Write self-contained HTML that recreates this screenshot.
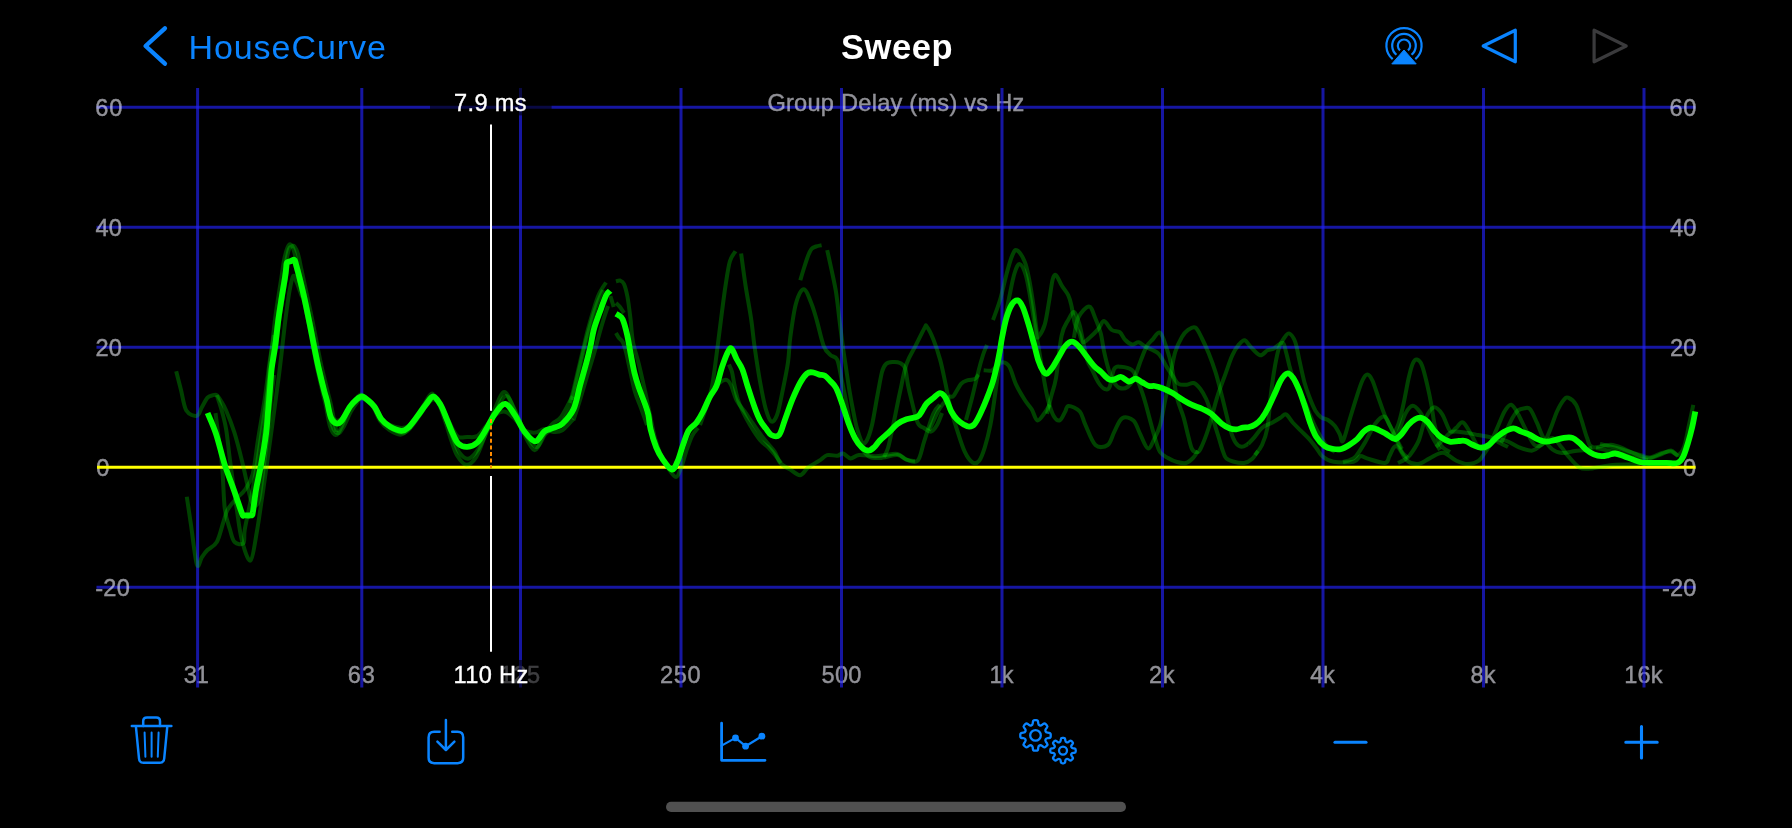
<!DOCTYPE html>
<html><head><meta charset="utf-8"><title>Sweep</title>
<style>
html,body{margin:0;padding:0;background:#000;}
.ly{position:absolute;left:0;top:0;width:1792px;height:828px;will-change:transform;}
body{width:1792px;height:828px;position:relative;overflow:hidden;font-family:"Liberation Sans",sans-serif;}
</style></head><body>
<svg width="1792" height="828" viewBox="0 0 1792 828" style="position:absolute;left:0;top:0">
<line x1="96.5" x2="1695.5" y1="107.3" y2="107.3" stroke="rgba(33,33,245,0.66)" stroke-width="3"/>
<line x1="96.5" x2="1695.5" y1="227.3" y2="227.3" stroke="rgba(33,33,245,0.66)" stroke-width="3"/>
<line x1="96.5" x2="1695.5" y1="347.3" y2="347.3" stroke="rgba(33,33,245,0.66)" stroke-width="3"/>
<line x1="96.5" x2="1695.5" y1="587.3" y2="587.3" stroke="rgba(33,33,245,0.66)" stroke-width="3"/>
</svg>
<div class="ly">
<div style="position:absolute;left:767.38px;top:89.54px;font-size:23.6px;line-height:27.116px;color:rgb(235,235,245);font-weight:400;white-space:pre;letter-spacing:0.247px;word-spacing:0.0px;opacity:0.62;-webkit-text-stroke:0.35px rgb(235,235,245);">Group Delay (ms) vs Hz</div>
<div style="position:absolute;left:95.28px;top:94.64px;font-size:23.6px;line-height:27.116px;color:rgb(235,235,245);font-weight:400;white-space:pre;letter-spacing:0.776px;word-spacing:0.0px;opacity:0.62;-webkit-text-stroke:0.35px rgb(235,235,245);">60</div>
<div style="position:absolute;left:1669.38px;top:94.64px;font-size:23.6px;line-height:27.116px;color:rgb(235,235,245);font-weight:400;white-space:pre;letter-spacing:0.776px;word-spacing:0.0px;opacity:0.62;-webkit-text-stroke:0.35px rgb(235,235,245);">60</div>
<div style="position:absolute;left:95.50px;top:214.64px;font-size:23.6px;line-height:27.116px;color:rgb(235,235,245);font-weight:400;white-space:pre;letter-spacing:0.151px;word-spacing:0.0px;opacity:0.62;-webkit-text-stroke:0.35px rgb(235,235,245);">40</div>
<div style="position:absolute;left:1670.00px;top:214.64px;font-size:23.6px;line-height:27.116px;color:rgb(235,235,245);font-weight:400;white-space:pre;letter-spacing:0.151px;word-spacing:0.0px;opacity:0.62;-webkit-text-stroke:0.35px rgb(235,235,245);">40</div>
<div style="position:absolute;left:95.48px;top:334.64px;font-size:23.6px;line-height:27.116px;color:rgb(235,235,245);font-weight:400;white-space:pre;letter-spacing:0.176px;word-spacing:0.0px;opacity:0.62;-webkit-text-stroke:0.35px rgb(235,235,245);">20</div>
<div style="position:absolute;left:1669.98px;top:334.64px;font-size:23.6px;line-height:27.116px;color:rgb(235,235,245);font-weight:400;white-space:pre;letter-spacing:0.176px;word-spacing:0.0px;opacity:0.62;-webkit-text-stroke:0.35px rgb(235,235,245);">20</div>
<div style="position:absolute;left:96.13px;top:454.64px;font-size:23.6px;line-height:27.116px;color:rgb(235,235,245);font-weight:400;white-space:pre;letter-spacing:0.000px;word-spacing:0.0px;opacity:0.62;-webkit-text-stroke:0.35px rgb(235,235,245);">0</div>
<div style="position:absolute;left:1683.03px;top:454.64px;font-size:23.6px;line-height:27.116px;color:rgb(235,235,245);font-weight:400;white-space:pre;letter-spacing:0.000px;word-spacing:0.0px;opacity:0.62;-webkit-text-stroke:0.35px rgb(235,235,245);">0</div>
<div style="position:absolute;left:95.30px;top:574.64px;font-size:23.6px;line-height:27.116px;color:rgb(235,235,245);font-weight:400;white-space:pre;letter-spacing:0.192px;word-spacing:0.0px;opacity:0.62;-webkit-text-stroke:0.35px rgb(235,235,245);">-20</div>
<div style="position:absolute;left:1661.90px;top:574.64px;font-size:23.6px;line-height:27.116px;color:rgb(235,235,245);font-weight:400;white-space:pre;letter-spacing:0.192px;word-spacing:0.0px;opacity:0.62;-webkit-text-stroke:0.35px rgb(235,235,245);">-20</div>
<div style="position:absolute;left:183.63px;top:661.64px;font-size:23.6px;line-height:27.116px;color:rgb(235,235,245);font-weight:400;white-space:pre;letter-spacing:-1.024px;word-spacing:0.0px;opacity:0.62;-webkit-text-stroke:0.35px rgb(235,235,245);">31</div>
<div style="position:absolute;left:347.68px;top:661.64px;font-size:23.6px;line-height:27.116px;color:rgb(235,235,245);font-weight:400;white-space:pre;letter-spacing:1.001px;word-spacing:0.0px;opacity:0.62;-webkit-text-stroke:0.35px rgb(235,235,245);">63</div>
<div style="position:absolute;left:499.85px;top:661.64px;font-size:23.6px;line-height:27.116px;color:rgb(235,235,245);font-weight:400;white-space:pre;letter-spacing:0.394px;word-spacing:0.0px;opacity:0.62;-webkit-text-stroke:0.35px rgb(235,235,245);">125</div>
<div style="position:absolute;left:659.88px;top:661.64px;font-size:23.6px;line-height:27.116px;color:rgb(235,235,245);font-weight:400;white-space:pre;letter-spacing:0.732px;word-spacing:0.0px;opacity:0.62;-webkit-text-stroke:0.35px rgb(235,235,245);">250</div>
<div style="position:absolute;left:821.53px;top:661.64px;font-size:23.6px;line-height:27.116px;color:rgb(235,235,245);font-weight:400;white-space:pre;letter-spacing:0.257px;word-spacing:0.0px;opacity:0.62;-webkit-text-stroke:0.35px rgb(235,235,245);">500</div>
<div style="position:absolute;left:989.45px;top:661.64px;font-size:23.6px;line-height:27.116px;color:rgb(235,235,245);font-weight:400;white-space:pre;letter-spacing:-0.825px;word-spacing:0.0px;opacity:0.62;-webkit-text-stroke:0.35px rgb(235,235,245);">1k</div>
<div style="position:absolute;left:1148.88px;top:661.64px;font-size:23.6px;line-height:27.116px;color:rgb(235,235,245);font-weight:400;white-space:pre;letter-spacing:0.750px;word-spacing:0.0px;opacity:0.62;-webkit-text-stroke:0.35px rgb(235,235,245);">2k</div>
<div style="position:absolute;left:1310.30px;top:661.64px;font-size:23.6px;line-height:27.116px;color:rgb(235,235,245);font-weight:400;white-space:pre;letter-spacing:-0.374px;word-spacing:0.0px;opacity:0.62;-webkit-text-stroke:0.35px rgb(235,235,245);">4k</div>
<div style="position:absolute;left:1470.50px;top:661.64px;font-size:23.6px;line-height:27.116px;color:rgb(235,235,245);font-weight:400;white-space:pre;letter-spacing:0.125px;word-spacing:0.0px;opacity:0.62;-webkit-text-stroke:0.35px rgb(235,235,245);">8k</div>
<div style="position:absolute;left:1624.25px;top:661.64px;font-size:23.6px;line-height:27.116px;color:rgb(235,235,245);font-weight:400;white-space:pre;letter-spacing:0.082px;word-spacing:0.0px;opacity:0.62;-webkit-text-stroke:0.35px rgb(235,235,245);">16k</div>
</div>
<svg width="1792" height="828" viewBox="0 0 1792 828" style="position:absolute;left:0;top:0">
<line x1="197.6" x2="197.6" y1="88" y2="687.5" stroke="rgba(33,33,245,0.66)" stroke-width="3"/>
<line x1="361.8" x2="361.8" y1="88" y2="687.5" stroke="rgba(33,33,245,0.66)" stroke-width="3"/>
<line x1="520.5" x2="520.5" y1="88" y2="687.5" stroke="rgba(33,33,245,0.66)" stroke-width="3"/>
<line x1="681" x2="681" y1="88" y2="687.5" stroke="rgba(33,33,245,0.66)" stroke-width="3"/>
<line x1="841.5" x2="841.5" y1="88" y2="687.5" stroke="rgba(33,33,245,0.66)" stroke-width="3"/>
<line x1="1002" x2="1002" y1="88" y2="687.5" stroke="rgba(33,33,245,0.66)" stroke-width="3"/>
<line x1="1162.5" x2="1162.5" y1="88" y2="687.5" stroke="rgba(33,33,245,0.66)" stroke-width="3"/>
<line x1="1323" x2="1323" y1="88" y2="687.5" stroke="rgba(33,33,245,0.66)" stroke-width="3"/>
<line x1="1483.5" x2="1483.5" y1="88" y2="687.5" stroke="rgba(33,33,245,0.66)" stroke-width="3"/>
<line x1="1644" x2="1644" y1="88" y2="687.5" stroke="rgba(33,33,245,0.66)" stroke-width="3"/>
<line x1="97" x2="1695.5" y1="467.3" y2="467.3" stroke="#ffff00" stroke-width="3"/>
<g fill="none" stroke="rgba(0,255,0,0.26)" stroke-width="4" stroke-linejoin="round" stroke-linecap="butt">
<path d="M176.2,371.2C177.0,374.3 179.3,383.4 181.0,390.0C182.7,396.6 183.7,406.2 186.3,410.5C189.0,414.8 194.3,416.4 196.9,415.8C199.5,415.2 200.2,410.0 202.0,407.0C203.8,404.0 205.8,399.6 207.5,397.7C209.2,395.8 210.4,395.9 212.0,395.5C213.6,395.1 215.3,394.2 216.8,395.1C218.3,396.0 219.4,398.4 221.0,401.0C222.6,403.6 223.9,405.4 226.1,410.5C228.3,415.6 231.4,423.3 234.1,431.7C236.8,440.1 239.8,452.1 242.0,461.0C244.2,469.9 245.9,478.4 247.4,484.9C248.9,491.4 249.7,496.5 251.0,500.0C252.3,503.5 253.7,506.0 255.0,506.0C256.3,506.0 257.8,504.3 259.0,500.0C260.2,495.7 260.9,488.0 262.0,480.0C263.1,472.0 264.4,461.2 265.5,452.0C266.6,442.8 267.6,433.7 268.5,425.0C269.4,416.3 270.1,408.3 271.0,400.0C271.9,391.7 273.5,379.2 274.0,375.0"/>
<path d="M186.8,496.8C187.5,501.5 189.3,513.7 191.0,525.0C192.7,536.3 195.1,559.3 196.9,564.6C198.7,569.9 200.2,559.4 202.0,557.0C203.8,554.6 205.0,552.5 207.5,550.0C210.0,547.5 214.2,546.7 216.8,542.0C219.5,537.3 221.6,527.3 223.4,522.0C225.2,516.7 225.2,514.1 227.4,510.1C229.6,506.1 233.8,501.5 236.7,498.2C239.6,494.9 242.0,494.2 244.7,490.2C247.4,486.2 250.5,482.6 252.7,474.2C254.9,465.8 256.0,452.1 258.0,439.7C260.0,427.3 262.6,413.2 264.6,399.9C266.6,386.6 268.3,370.8 269.9,360.0C271.5,349.2 273.3,339.2 274.0,335.0"/>
<path d="M215.5,413.1C215.8,415.1 215.9,416.1 217.0,425.0C218.1,433.9 220.8,452.3 222.1,466.3C223.4,480.3 223.5,498.2 224.8,508.8C226.1,519.4 228.5,524.5 230.1,530.0C231.7,535.5 232.4,539.8 234.6,542.0C236.8,544.2 241.7,545.3 243.4,543.3C245.1,541.3 243.6,536.6 244.7,530.0C245.8,523.4 248.1,513.5 250.0,503.5C251.9,493.5 254.0,482.2 256.0,470.0C258.0,457.8 260.2,442.5 262.0,430.0C263.8,417.5 265.3,406.7 267.0,395.0C268.7,383.3 270.3,370.8 272.0,360.0C273.7,349.2 276.2,335.0 277.0,330.0"/>
<path d="M216.8,395.1C217.5,397.2 219.4,402.3 221.0,408.0C222.6,413.7 224.6,420.3 226.1,429.1C227.6,437.9 228.3,447.7 230.1,461.0C231.9,474.3 234.7,495.5 236.7,508.8C238.7,522.1 239.7,532.1 242.0,540.7C244.3,549.3 248.1,561.9 250.5,560.6C252.9,559.3 254.8,543.1 256.7,532.7C258.6,522.3 260.2,510.1 262.0,498.2C263.8,486.2 265.3,475.2 267.3,461.0C269.3,446.8 271.9,427.7 273.9,413.1C275.9,398.5 277.8,384.7 279.2,373.3C280.6,361.9 281.4,354.7 282.5,345.0C283.6,335.3 284.8,324.0 286.0,315.0C287.2,306.0 288.3,297.5 289.5,291.0C290.7,284.5 292.0,277.5 293.2,276.0C294.4,274.5 295.4,279.7 296.5,282.0C297.6,284.3 298.6,287.5 299.5,290.0C300.4,292.5 301.6,295.8 302.0,297.0"/>
<path d="M274.1,346.9C274.7,342.3 276.3,327.7 277.4,319.4C278.5,311.1 279.7,304.1 280.8,297.0C281.9,289.9 283.4,281.9 284.1,276.9C284.9,271.9 285.0,269.4 285.3,267.0C285.6,264.6 285.2,263.6 285.9,262.6C286.6,261.6 288.2,261.7 289.5,261.2C290.8,260.7 292.5,259.4 293.4,259.8C294.3,260.2 294.0,261.0 294.7,263.5C295.4,266.0 296.4,269.4 297.8,275.0C299.2,280.6 301.3,288.9 303.1,297.0C304.9,305.1 307.0,315.4 308.7,323.9C310.4,332.4 311.7,340.2 313.2,348.0C314.7,355.8 316.0,363.0 317.7,370.8C319.4,378.6 321.8,388.7 323.2,394.7C324.6,400.6 324.9,401.2 326.0,406.5C327.1,411.7 328.4,421.5 330.0,426.3C331.6,431.0 333.6,434.9 335.5,435.1C337.4,435.4 338.9,432.1 341.1,427.7C343.4,423.3 346.6,413.4 349.0,408.7C351.4,404.0 353.6,401.7 355.6,399.3C357.6,396.9 359.1,394.7 360.8,394.6C362.5,394.5 363.9,396.5 366.0,398.6C368.1,400.8 371.1,403.7 373.5,407.5C375.9,411.2 377.6,417.4 380.2,421.1C382.8,424.8 385.8,427.5 389.2,429.8C392.6,432.0 397.3,434.6 400.3,434.7C403.3,434.8 404.4,433.3 407.0,430.4C409.6,427.5 413.0,422.0 416.0,417.4C419.0,412.9 422.2,407.1 424.9,403.1C427.6,399.2 429.7,393.2 432.1,393.6C434.5,393.9 437.0,400.1 439.4,405.2C441.8,410.3 444.1,418.2 446.2,424.2C448.2,430.3 449.8,436.4 451.7,441.6C453.6,446.9 454.9,451.9 457.3,455.8C459.7,459.7 463.1,464.6 466.3,464.8C469.5,464.9 473.1,461.8 476.3,456.8C479.5,451.8 482.3,442.5 485.3,434.8C488.3,427.1 491.0,417.7 494.2,410.5C497.4,403.4 501.0,392.1 504.3,392.0C507.6,391.9 511.1,403.3 514.3,409.9C517.4,416.6 519.9,425.3 523.2,432.0C526.6,438.7 531.0,449.5 534.4,450.1C537.8,450.7 540.4,440.0 543.4,435.6C546.4,431.2 549.3,426.9 552.3,423.8C555.3,420.7 557.9,421.3 561.3,416.7C564.7,412.1 570.6,399.6 572.5,396.2"/>
<path d="M276.1,346.9C276.7,342.3 278.3,327.7 279.4,319.4C280.5,311.1 281.7,304.1 282.8,297.0C283.9,289.9 285.4,281.9 286.1,276.9C286.9,271.9 287.0,269.4 287.3,267.0C287.6,264.6 287.2,263.6 287.9,262.6C288.6,261.6 290.2,261.7 291.5,261.2C292.8,260.7 294.5,259.4 295.4,259.8C296.3,260.2 296.0,261.0 296.7,263.5C297.4,266.0 298.4,269.4 299.8,275.0C301.2,280.6 303.3,288.9 305.1,297.0C306.9,305.1 309.0,315.6 310.7,323.9C312.4,332.2 313.7,339.4 315.2,346.9C316.7,354.4 318.0,361.0 319.7,368.9C321.4,376.8 323.8,388.2 325.2,394.3C326.6,400.5 326.9,400.9 328.0,406.0C329.1,411.1 330.4,420.6 332.0,425.1C333.6,429.7 335.6,432.9 337.5,433.3C339.4,433.7 340.9,431.4 343.1,427.8C345.4,424.1 348.6,415.7 351.0,411.3C353.4,407.0 355.6,404.0 357.6,401.6C359.6,399.1 361.1,396.9 362.8,396.6C364.5,396.3 365.9,398.0 368.0,399.8C370.1,401.6 373.1,404.0 375.5,407.3C377.9,410.7 379.6,416.5 382.2,420.0C384.8,423.5 387.8,426.1 391.2,428.2C394.6,430.4 399.3,432.6 402.3,432.8C405.3,433.0 406.4,432.0 409.0,429.5C411.6,427.0 415.0,421.9 418.0,417.8C421.0,413.7 424.2,408.5 426.9,404.9C429.6,401.4 431.7,396.2 434.1,396.5C436.5,396.9 439.0,402.3 441.4,407.1C443.8,411.9 446.1,419.6 448.2,425.1C450.2,430.7 451.8,435.9 453.7,440.5C455.6,445.0 456.9,449.5 459.3,452.5C461.7,455.6 465.1,459.3 468.3,458.7C471.5,458.2 475.1,453.7 478.3,449.1C481.5,444.5 484.3,437.4 487.3,431.0C490.3,424.6 493.0,416.5 496.2,410.6C499.4,404.8 503.0,395.5 506.3,396.0C509.6,396.4 513.1,406.9 516.3,413.1C519.4,419.3 521.9,427.3 525.2,433.0C528.6,438.7 533.0,447.0 536.4,447.2C539.8,447.4 542.4,437.4 545.4,434.2C548.4,430.9 551.3,430.1 554.3,427.8C557.3,425.5 559.9,424.7 563.3,420.4C566.7,416.1 572.6,404.9 574.5,401.8"/>
<path d="M275.1,346.9C275.7,342.3 277.3,327.7 278.4,319.4C279.5,311.1 280.7,304.1 281.8,297.0C282.9,289.9 284.4,281.9 285.1,276.9C285.9,271.9 286.0,269.4 286.3,267.0C286.6,264.6 286.2,263.6 286.9,262.6C287.6,261.6 289.2,261.7 290.5,261.2C291.8,260.7 293.5,259.4 294.4,259.8C295.3,260.2 295.0,261.0 295.7,263.5C296.4,266.0 297.4,269.4 298.8,275.0C300.2,280.6 302.3,288.9 304.1,297.0C305.9,305.1 308.0,315.7 309.7,323.9C311.4,332.1 312.7,339.1 314.2,346.3C315.7,353.6 317.0,360.2 318.7,367.3C320.4,374.5 322.8,383.8 324.2,389.0C325.6,394.3 325.9,394.4 327.0,398.8C328.1,403.2 329.4,411.7 331.0,415.4C332.6,419.0 334.6,420.1 336.5,420.6C338.4,421.1 339.9,420.6 342.1,418.3C344.4,415.9 347.6,409.4 350.0,406.4C352.4,403.4 354.6,401.8 356.6,400.5C358.6,399.1 360.1,398.4 361.8,398.5C363.5,398.5 364.9,399.4 367.0,400.9C369.1,402.3 372.1,404.2 374.5,407.1C376.9,410.0 378.6,415.5 381.2,418.5C383.8,421.6 386.8,423.6 390.2,425.2C393.6,426.7 398.3,427.7 401.3,427.9C404.3,428.0 405.4,428.1 408.0,426.2C410.6,424.4 414.0,420.1 417.0,416.8C420.0,413.5 423.2,409.1 425.9,406.2C428.6,403.3 430.7,399.7 433.1,399.5C435.5,399.2 438.0,401.6 440.4,404.7C442.8,407.7 445.1,413.6 447.2,417.7C449.2,421.7 450.8,425.8 452.7,429.0C454.6,432.2 455.9,435.6 458.3,436.9C460.7,438.3 464.1,437.1 467.3,437.0C470.5,436.9 474.1,437.9 477.3,436.1C480.5,434.2 483.3,429.3 486.3,425.8C489.3,422.3 492.0,417.2 495.2,414.9C498.4,412.5 502.0,410.9 505.3,411.7C508.6,412.4 512.1,416.4 515.3,419.5C518.4,422.6 520.9,428.0 524.2,430.2C527.6,432.4 532.0,432.8 535.4,432.6C538.8,432.4 541.4,429.2 544.4,429.1C547.4,429.0 550.3,431.8 553.3,432.0C556.3,432.2 558.9,432.5 562.3,430.3C565.7,428.2 571.6,420.8 573.5,418.9"/>
<path d="M262.0,470.0C262.4,463.8 263.8,443.0 264.5,433.0C265.2,423.0 265.9,417.2 266.5,410.0C267.1,402.8 267.5,397.0 268.0,390.0C268.5,383.0 268.8,375.2 269.5,368.0C270.2,360.8 271.1,355.0 272.0,346.9C272.9,338.8 273.9,327.7 275.0,319.4C276.1,311.1 277.2,304.1 278.3,297.0C279.4,289.9 280.5,283.4 281.5,276.9C282.5,270.4 283.3,263.2 284.5,258.0C285.7,252.8 287.2,247.5 288.5,245.5C289.8,243.5 290.9,244.4 292.0,246.0C293.1,247.6 293.9,250.2 295.0,255.0C296.1,259.8 297.9,271.4 298.5,274.7"/>
<path d="M286.0,262.0C286.5,259.8 288.1,251.6 289.0,249.0C289.9,246.4 290.6,246.9 291.5,246.5C292.4,246.1 293.4,245.2 294.5,246.5C295.6,247.8 296.8,250.1 298.0,254.0C299.2,257.9 300.1,263.5 301.5,270.0C302.9,276.5 304.7,284.5 306.5,293.0C308.3,301.5 310.7,312.0 312.5,321.0C314.3,330.0 315.9,339.0 317.5,346.9C319.1,354.8 320.3,361.2 322.0,368.5C323.7,375.8 326.0,384.8 327.5,390.9C329.0,397.0 329.9,400.1 331.0,405.0C332.1,409.9 333.1,415.5 334.0,420.0C334.9,424.5 336.1,430.0 336.5,432.0"/>
<path d="M570.0,403.0C570.6,400.8 572.2,395.0 573.5,390.0C574.8,385.0 576.0,379.3 577.5,373.0C579.0,366.7 580.8,359.0 582.5,352.0C584.2,345.0 585.7,338.0 587.5,331.0C589.3,324.0 591.6,316.2 593.5,310.0C595.4,303.8 596.9,298.6 599.0,294.0C601.1,289.4 604.8,284.4 606.0,282.5"/>
<path d="M572.0,400.0C572.7,397.2 574.5,389.3 576.0,383.0C577.5,376.7 579.3,369.0 581.0,362.0C582.7,355.0 584.2,347.8 586.0,341.0C587.8,334.2 589.7,327.2 591.5,321.0C593.3,314.8 595.1,309.2 597.0,304.0C598.9,298.8 602.0,292.3 603.0,290.0"/>
<path d="M616.0,281.5C616.7,281.3 618.7,280.1 620.0,280.5C621.3,280.9 622.8,281.2 624.0,284.0C625.2,286.8 626.4,291.2 627.5,297.0C628.6,302.8 629.6,311.5 630.5,319.0C631.4,326.5 631.6,334.5 633.0,342.0C634.4,349.5 636.8,355.8 638.8,364.0C640.8,372.2 643.1,382.5 645.0,391.0C646.9,399.5 648.3,407.2 650.0,415.0C651.7,422.8 653.2,431.3 655.0,438.0C656.8,444.7 658.8,450.0 661.0,455.0C663.2,460.0 665.5,464.3 668.0,468.0C670.5,471.7 673.8,477.0 676.0,477.0C678.2,477.0 679.3,472.2 681.0,468.0C682.7,463.8 684.2,457.3 686.0,452.0C687.8,446.7 690.0,440.0 692.0,436.0C694.0,432.0 697.0,429.3 698.0,428.0"/>
<path d="M610.4,296.0 L613.7,307.0"/>
<path d="M616.0,303.0C616.7,303.7 618.7,305.3 620.0,307.0C621.3,308.7 623.3,312.0 624.0,313.0"/>
<path d="M616.0,333.0C616.5,333.8 617.9,336.5 619.0,338.0C620.1,339.5 621.5,339.7 622.7,342.0C623.9,344.3 624.8,347.3 626.0,352.0C627.2,356.7 628.5,363.3 630.0,370.0C631.5,376.7 633.2,385.7 635.0,392.0C636.8,398.3 639.0,402.5 641.0,408.0C643.0,413.5 646.0,422.2 647.0,425.0"/>
<path d="M573.5,420.0C574.6,416.7 577.6,407.8 580.0,400.0C582.4,392.2 585.7,380.5 588.0,373.0C590.3,365.5 591.8,361.3 593.6,355.0C595.4,348.7 597.3,341.2 599.0,335.0C600.7,328.8 602.5,322.8 604.0,318.0C605.5,313.2 607.3,308.0 608.0,306.0"/>
<path d="M700.0,425.0C701.0,422.2 704.0,414.4 706.0,408.0C708.0,401.6 710.2,395.2 712.0,386.4C713.8,377.6 715.0,366.3 716.5,355.1C718.0,343.9 719.5,330.9 721.0,319.4C722.5,307.9 724.0,295.6 725.5,285.9C727.0,276.2 728.2,267.1 729.9,261.3C731.6,255.5 734.6,252.9 735.5,251.2"/>
<path d="M741.1,253.5C741.9,258.9 743.9,274.9 745.6,285.9C747.3,296.9 749.7,309.3 751.2,319.4C752.7,329.4 753.0,335.8 754.5,346.2C756.0,356.6 758.2,371.6 760.1,382.0C762.0,392.4 763.8,402.2 765.7,408.8C767.6,415.4 769.4,420.6 771.3,421.6C773.2,422.6 775.1,420.0 777.0,415.0C778.9,410.0 780.7,400.2 782.5,391.4C784.3,382.6 786.7,371.3 788.0,362.3C789.3,353.3 789.0,347.1 790.3,337.3C791.6,327.5 793.7,311.7 795.9,303.7C798.1,295.7 801.1,289.2 803.7,289.2C806.3,289.2 809.3,298.3 811.5,303.7C813.7,309.1 815.1,314.5 817.1,321.6C819.1,328.7 821.6,340.6 823.8,346.2C826.0,351.8 828.3,352.9 830.5,355.1C832.7,357.3 835.3,355.5 837.2,359.6C839.1,363.8 840.4,373.9 841.7,380.0C843.0,386.1 843.3,387.7 845.0,395.9C846.7,404.1 849.3,421.2 851.7,429.4C854.1,437.6 856.8,440.5 859.6,445.0C862.4,449.5 865.1,454.0 868.5,456.2C871.9,458.4 875.2,458.2 880.0,458.0C884.8,457.8 893.1,454.7 897.5,455.0C901.9,455.3 903.1,458.7 906.5,459.6C909.9,460.6 914.7,463.9 917.7,460.7C920.7,457.5 921.8,448.4 924.4,440.6C927.0,432.8 930.7,419.7 933.3,413.7C935.9,407.7 938.9,406.3 940.0,404.8"/>
<path d="M800.3,280.3C800.9,278.2 802.7,272.1 804.0,268.0C805.3,263.9 806.8,259.2 808.0,256.0C809.2,252.8 810.2,250.6 811.5,249.0C812.8,247.4 814.3,247.1 816.0,246.5C817.7,245.9 820.7,245.4 821.6,245.2"/>
<path d="M827.2,250.1C827.9,253.4 830.1,263.1 831.6,270.2C833.1,277.3 834.8,284.4 836.1,292.6C837.4,300.8 838.3,310.5 839.4,319.4C840.5,328.3 841.7,338.0 842.8,346.2C843.9,354.4 845.0,361.1 846.1,368.5C847.2,375.9 848.2,383.1 849.5,390.9C850.8,398.6 852.7,408.6 854.0,415.0C855.3,421.4 855.9,424.7 857.3,429.4C858.7,434.1 860.9,441.2 862.5,443.0C864.1,444.8 865.4,443.0 867.0,440.0C868.6,437.0 870.2,432.5 872.0,425.0C873.8,417.5 875.8,403.8 877.5,395.0C879.2,386.2 880.6,377.2 882.0,372.0C883.4,366.8 884.2,365.7 886.0,364.0C887.8,362.3 890.7,362.2 893.0,362.0C895.3,361.8 898.0,362.0 900.0,363.0C902.0,364.0 903.7,364.3 905.0,368.0C906.3,371.7 907.0,380.0 908.0,385.0C909.0,390.0 909.4,391.7 911.0,398.0C912.6,404.3 915.5,417.7 917.7,422.7C919.9,427.7 921.8,426.5 924.0,428.0C926.2,429.5 928.8,432.1 931.0,431.6C933.2,431.1 935.2,428.1 937.0,425.0C938.8,421.9 941.2,415.0 942.0,413.0"/>
<path d="M716.0,386.0C717.0,385.2 720.2,382.0 722.0,381.0C723.8,380.0 725.5,379.3 727.0,380.0C728.5,380.7 729.4,381.6 731.0,385.0C732.6,388.4 734.3,395.8 736.6,400.3C738.9,404.8 742.4,408.3 745.0,412.0C747.6,415.7 749.2,418.3 752.3,422.7C755.4,427.1 759.8,433.5 763.5,438.3C767.2,443.1 771.8,447.6 774.6,451.7C777.4,455.8 777.6,459.9 780.2,462.9C782.8,465.9 786.9,467.6 790.3,469.6C793.6,471.7 797.3,475.6 800.3,475.2C803.3,474.8 805.0,469.8 808.2,467.4C811.4,465.0 816.1,462.8 819.3,460.7C822.5,458.6 824.2,455.9 827.2,455.1C830.2,454.3 834.6,456.1 837.2,455.8C839.8,455.5 840.8,453.1 843.0,453.5C845.2,453.9 847.9,458.1 850.6,458.4C853.3,458.6 854.9,455.4 859.0,455.0C863.1,454.6 870.7,456.2 875.2,456.2C879.7,456.2 882.3,455.4 886.0,455.0C889.7,454.6 894.1,453.2 897.5,454.0C900.9,454.8 903.6,458.4 906.5,459.6C909.4,460.8 913.6,460.8 915.0,461.0"/>
<path d="M729.0,364.6C729.5,365.8 731.1,368.6 732.0,372.0C732.9,375.4 733.4,380.0 734.4,384.7C735.4,389.4 736.6,395.4 738.0,400.0C739.4,404.6 741.0,407.8 743.0,412.0C745.0,416.2 747.2,420.3 750.0,425.0C752.8,429.7 757.0,436.3 760.0,440.0C763.0,443.7 765.5,444.5 768.0,447.0C770.5,449.5 772.8,452.3 775.0,455.0C777.2,457.7 780.0,461.7 781.0,463.0"/>
<path d="M884.0,457.0C884.7,455.5 886.8,452.0 888.0,448.0C889.2,444.0 890.3,438.5 891.5,433.0C892.7,427.5 893.9,421.8 895.3,415.0C896.7,408.2 898.1,400.5 900.0,392.0C901.9,383.5 903.9,371.6 906.5,364.0C909.1,356.4 912.4,352.1 915.4,346.2C918.4,340.2 922.5,331.6 924.4,328.3C926.3,325.0 925.2,324.6 926.7,326.5C928.2,328.4 931.2,334.0 933.4,339.5C935.6,345.0 938.0,352.1 940.1,359.6C942.2,367.1 944.0,376.8 945.7,384.7C947.4,392.6 948.3,399.6 950.2,407.0C952.1,414.4 954.5,421.9 956.9,429.4C959.3,436.8 962.1,446.2 964.7,451.7C967.3,457.2 970.1,461.0 972.5,462.5C974.9,464.0 977.2,463.2 979.2,460.7C981.2,458.2 982.9,453.3 984.8,447.3C986.7,441.3 988.7,433.5 990.4,424.9C992.1,416.3 993.4,406.3 994.9,395.9C996.4,385.5 998.1,372.7 999.3,362.3C1000.5,351.9 1000.7,344.1 1002.3,333.3C1003.9,322.5 1007.0,307.7 1009.1,297.6C1011.2,287.6 1012.8,278.6 1014.6,273.0C1016.4,267.4 1017.9,263.7 1019.8,264.1C1021.7,264.5 1024.0,269.6 1025.8,275.2C1027.5,280.8 1028.8,289.4 1030.3,297.6C1031.8,305.8 1033.2,315.5 1034.7,324.4C1036.2,333.3 1037.7,342.3 1039.2,351.2C1040.7,360.1 1042.2,369.8 1043.7,378.0C1045.2,386.2 1046.5,394.1 1048.2,400.4C1049.9,406.7 1051.8,412.7 1053.7,416.0C1055.6,419.3 1057.8,421.1 1059.7,420.4C1061.6,419.7 1063.5,414.4 1065.0,412.0C1066.5,409.6 1066.1,406.0 1068.6,405.9C1071.1,405.8 1077.0,408.3 1079.8,411.5C1082.6,414.7 1082.8,419.3 1085.4,424.9C1088.0,430.5 1091.7,441.6 1095.4,445.0C1099.1,448.4 1104.5,447.2 1107.7,445.0C1110.9,442.8 1112.0,436.1 1114.4,431.6C1116.8,427.1 1119.0,420.1 1122.2,418.2C1125.4,416.3 1130.4,417.8 1133.4,420.4C1136.4,423.0 1137.7,429.2 1140.1,433.9C1142.5,438.6 1145.5,447.7 1147.9,448.4C1150.3,449.1 1152.5,442.2 1154.6,438.3C1156.6,434.4 1158.5,430.8 1160.2,424.9C1161.9,418.9 1163.1,410.6 1164.7,402.6C1166.3,394.6 1168.3,385.5 1170.1,377.1C1171.8,368.7 1173.2,358.7 1175.2,352.0C1177.2,345.3 1179.8,340.5 1181.9,336.9C1184.0,333.2 1185.6,331.7 1187.8,330.1C1190.0,328.6 1192.9,326.2 1195.3,327.6C1197.7,329.0 1199.8,334.2 1202.0,338.5C1204.2,342.8 1206.5,348.0 1208.8,353.6C1211.0,359.2 1213.5,365.9 1215.5,372.1C1217.5,378.3 1218.8,384.2 1220.5,390.6C1222.2,397.0 1223.8,404.0 1225.5,410.7C1227.2,417.4 1228.9,425.6 1230.6,430.9C1232.3,436.2 1233.8,440.0 1235.6,442.6C1237.4,445.2 1239.4,446.6 1241.5,446.8C1243.6,447.0 1246.9,444.5 1248.0,444.0"/>
<path d="M993.0,320.0C994.2,316.6 997.8,307.6 1000.1,299.8C1002.4,292.0 1004.8,280.4 1006.8,273.0C1008.8,265.6 1010.7,258.9 1012.4,255.1C1014.1,251.3 1014.8,249.1 1016.9,250.2C1019.0,251.3 1022.7,256.9 1024.7,261.8C1026.8,266.7 1027.7,272.2 1029.2,279.7C1030.7,287.1 1032.3,297.6 1033.6,306.5C1034.9,315.4 1036.2,328.3 1037.0,333.3C1037.8,338.3 1037.2,338.2 1038.5,336.7C1039.8,335.2 1043.0,330.5 1044.8,324.4C1046.6,318.2 1048.0,307.2 1049.3,299.8C1050.6,292.4 1051.5,283.8 1052.6,279.7C1053.7,275.6 1054.5,274.3 1056.0,275.2C1057.5,276.1 1059.5,281.9 1061.6,285.3C1063.6,288.7 1066.6,291.8 1068.3,295.3C1070.0,298.8 1070.5,301.6 1071.6,306.5C1072.7,311.4 1073.7,319.9 1075.0,324.4C1076.3,328.9 1078.1,330.3 1079.4,333.3C1080.7,336.3 1081.1,341.6 1082.8,342.3C1084.5,343.1 1086.9,340.0 1089.5,337.8C1092.1,335.6 1096.0,331.7 1098.4,328.9C1100.8,326.1 1101.8,320.8 1104.0,321.0C1106.2,321.2 1109.2,328.1 1111.8,330.0C1114.4,331.9 1117.5,330.5 1119.7,332.2C1122.0,333.9 1123.2,337.9 1125.3,340.0C1127.3,342.1 1129.8,344.1 1132.0,344.5C1134.2,344.9 1136.5,341.9 1138.7,342.3C1140.9,342.7 1142.1,344.8 1145.4,346.7C1148.7,348.6 1154.8,350.2 1158.4,353.6C1162.0,357.0 1164.3,363.2 1166.8,367.1C1169.3,371.0 1171.5,374.3 1173.5,377.1C1175.5,379.9 1176.3,382.6 1178.5,383.9C1180.7,385.2 1184.4,384.8 1186.9,384.7C1189.4,384.6 1191.3,382.3 1193.6,383.0C1195.8,383.7 1198.3,386.2 1200.4,388.9C1202.5,391.6 1204.5,395.4 1206.2,399.0C1207.9,402.6 1209.0,406.5 1210.4,410.7C1211.8,414.9 1213.2,419.7 1214.6,424.2C1216.0,428.7 1217.5,433.5 1218.8,437.6C1220.1,441.7 1221.0,445.6 1222.2,449.0C1223.4,452.4 1224.2,455.9 1226.0,458.0C1227.8,460.1 1230.0,460.7 1233.0,461.5C1236.0,462.3 1240.8,463.4 1244.0,463.0C1247.2,462.6 1249.7,461.0 1252.0,459.0C1254.3,457.0 1257.0,452.3 1258.0,451.0"/>
<path d="M1047.0,413.8C1047.7,411.0 1049.5,403.0 1051.0,397.0C1052.5,391.0 1054.2,388.2 1056.0,378.0C1057.8,367.8 1059.5,345.3 1061.6,335.6C1063.6,325.9 1066.2,323.8 1068.3,319.9C1070.4,316.0 1072.4,311.4 1074.3,312.1C1076.2,312.9 1078.0,319.8 1079.4,324.4C1080.8,329.0 1081.5,334.1 1082.8,340.0C1084.1,345.9 1085.8,355.2 1087.3,360.1C1088.8,365.0 1089.8,365.4 1091.7,369.1C1093.6,372.8 1096.2,379.1 1098.4,382.5C1100.6,385.9 1103.2,388.4 1105.1,389.2C1107.0,389.9 1108.1,390.4 1109.6,387.0C1111.1,383.6 1112.2,372.5 1114.1,369.1C1116.0,365.7 1117.8,366.6 1120.8,366.8C1123.8,367.0 1129.4,368.3 1132.0,370.2C1134.6,372.1 1134.7,374.4 1136.4,378.0C1138.1,381.6 1140.4,387.5 1142.0,392.0C1143.6,396.5 1144.7,400.3 1146.0,405.0C1147.3,409.7 1148.5,414.5 1150.0,420.0C1151.5,425.5 1153.3,432.7 1155.0,438.0C1156.7,443.3 1157.8,448.7 1160.0,452.0C1162.2,455.3 1165.2,456.3 1168.0,458.0C1170.8,459.7 1174.0,461.2 1177.0,462.0C1180.0,462.8 1183.3,463.7 1186.0,463.0C1188.7,462.3 1191.0,460.0 1193.0,458.0C1195.0,456.0 1197.2,452.2 1198.0,451.0"/>
<path d="M1073.9,337.8C1074.6,334.4 1075.8,322.9 1078.3,317.7C1080.8,312.5 1086.2,306.5 1089.0,306.5C1091.8,306.5 1093.1,313.2 1095.1,317.7C1097.0,322.2 1099.2,327.7 1100.7,333.3C1102.2,338.9 1102.7,345.2 1104.0,351.2C1105.3,357.2 1106.8,363.9 1108.5,369.1C1110.2,374.3 1112.2,379.4 1114.1,382.5C1116.0,385.6 1117.5,387.2 1119.7,388.0C1121.9,388.8 1125.1,388.7 1127.5,387.0C1129.9,385.3 1132.0,382.5 1134.2,378.0C1136.4,373.5 1138.9,365.3 1140.9,360.1C1143.0,354.9 1144.6,350.1 1146.5,346.7C1148.4,343.3 1149.8,342.3 1152.1,340.0C1154.4,337.7 1157.6,331.3 1160.1,332.7C1162.5,334.1 1164.8,342.9 1166.8,348.6C1168.8,354.3 1170.1,359.0 1171.8,367.1C1173.5,375.2 1174.9,388.9 1176.9,397.3C1178.9,405.7 1181.6,410.7 1183.6,417.4C1185.5,424.1 1187.2,432.3 1188.6,437.6C1190.0,442.9 1190.8,446.6 1192.0,449.0C1193.2,451.4 1194.6,452.0 1196.0,452.0C1197.4,452.0 1198.3,453.1 1200.4,449.0C1202.5,444.9 1206.0,436.1 1208.8,427.5C1211.6,418.9 1214.3,406.2 1217.1,397.3C1219.9,388.4 1223.0,380.8 1225.5,373.8C1228.0,366.8 1230.0,360.2 1232.3,355.3C1234.5,350.4 1236.9,346.9 1239.0,344.4C1241.1,341.9 1242.8,339.8 1244.8,340.2C1246.8,340.6 1248.2,344.4 1250.7,346.9C1253.2,349.4 1257.2,354.7 1260.0,355.3C1262.8,355.9 1265.2,351.4 1267.5,350.3C1269.8,349.2 1271.5,349.8 1274.0,348.5C1276.5,347.2 1280.6,342.1 1282.6,342.7C1284.6,343.3 1284.9,348.2 1286.0,352.0C1287.1,355.8 1288.2,361.2 1289.3,365.4C1290.4,369.6 1291.3,373.2 1292.7,377.1C1294.1,381.0 1295.8,385.1 1297.7,388.9C1299.6,392.7 1302.0,395.6 1304.0,400.0C1306.0,404.4 1307.7,409.7 1310.0,415.0C1312.3,420.3 1315.3,427.0 1318.0,432.0C1320.7,437.0 1323.2,441.7 1326.0,445.0C1328.8,448.3 1333.5,450.8 1335.0,452.0"/>
<path d="M928.9,430.5C929.6,429.1 931.5,425.2 933.0,422.0C934.5,418.8 936.4,414.4 937.9,411.5C939.4,408.6 940.4,407.2 942.3,404.8C944.1,402.4 947.1,398.5 949.0,397.0C950.9,395.5 951.5,398.2 953.5,396.0C955.5,393.8 958.9,386.2 961.3,383.6C963.7,381.0 965.8,381.0 968.0,380.2C970.2,379.4 973.0,379.9 974.7,379.0C976.5,378.1 977.9,375.3 978.5,374.6"/>
<path d="M983.7,370.2C985.0,370.3 989.3,371.3 991.5,370.6C993.7,369.9 995.1,367.4 997.0,366.0C998.9,364.6 1000.6,362.2 1002.7,362.3C1004.8,362.4 1007.2,363.1 1009.4,366.8C1011.6,370.5 1013.5,379.1 1016.1,384.7C1018.7,390.3 1022.4,396.2 1025.0,400.3C1027.6,404.4 1029.7,406.0 1031.7,409.3C1033.8,412.6 1035.2,419.7 1037.3,420.4C1039.3,421.1 1042.0,416.3 1044.0,413.7C1046.0,411.1 1048.7,406.3 1049.6,404.8"/>
<path d="M1255.0,455.0C1256.2,453.3 1259.9,449.6 1262.0,445.0C1264.1,440.4 1266.0,436.0 1267.5,427.5C1269.0,419.0 1269.6,404.2 1270.9,393.9C1272.2,383.5 1273.7,373.2 1275.1,365.4C1276.5,357.6 1277.8,351.5 1279.3,346.9C1280.8,342.3 1282.6,339.9 1284.3,337.7C1286.0,335.5 1287.5,332.8 1289.3,333.5C1291.1,334.2 1293.5,337.4 1295.2,341.9C1296.9,346.4 1297.9,353.7 1299.4,360.4C1300.9,367.1 1302.7,376.0 1304.4,382.2C1306.1,388.4 1307.7,392.6 1309.5,397.3C1311.3,402.1 1313.5,407.4 1315.4,410.7C1317.4,414.0 1319.1,415.8 1321.2,417.4C1323.3,418.9 1325.7,418.6 1327.9,420.0C1330.2,421.4 1332.7,423.4 1334.7,425.8C1336.7,428.2 1338.3,431.7 1339.7,434.2C1341.1,436.7 1341.3,443.4 1343.0,440.9C1344.7,438.4 1347.5,426.4 1349.8,419.1C1352.0,411.8 1354.4,403.7 1356.5,397.3C1358.6,390.9 1360.6,384.3 1362.4,380.5C1364.2,376.7 1365.7,374.6 1367.4,374.6C1369.1,374.6 1370.6,376.7 1372.4,380.5C1374.2,384.3 1376.2,391.4 1378.3,397.3C1380.4,403.2 1382.8,410.5 1385.0,415.8C1387.2,421.1 1389.5,424.7 1391.7,429.2C1393.9,433.7 1396.7,439.3 1398.4,442.6C1400.1,445.9 1401.2,447.9 1401.8,449.0"/>
<path d="M1248.0,444.0C1249.0,442.9 1251.7,440.4 1254.1,437.6C1256.5,434.9 1259.4,430.0 1262.5,427.5C1265.6,425.0 1269.4,424.2 1272.5,422.5C1275.6,420.8 1278.7,418.8 1280.9,417.4C1283.2,416.0 1284.0,413.5 1286.0,414.4C1288.0,415.2 1290.2,419.8 1292.7,422.5C1295.2,425.2 1298.3,428.1 1301.1,430.9C1303.9,433.7 1307.0,436.5 1309.5,439.3C1312.0,442.1 1314.1,444.9 1316.2,447.7C1318.3,450.5 1319.4,453.8 1322.3,456.2C1325.2,458.6 1328.3,460.9 1333.5,461.8C1338.7,462.7 1349.1,462.7 1353.6,461.8C1358.1,460.9 1358.1,456.8 1360.3,456.2C1362.5,455.6 1362.9,457.3 1367.0,458.4C1371.1,459.5 1381.2,463.3 1384.9,462.9C1388.6,462.5 1387.9,458.8 1389.4,456.2C1390.9,453.6 1392.4,448.8 1393.9,447.3C1395.4,445.8 1396.1,445.1 1398.3,447.3C1400.5,449.5 1403.9,457.9 1407.3,460.7C1410.7,463.5 1414.7,464.4 1418.4,464.0C1422.1,463.6 1425.5,460.3 1429.6,458.4C1433.7,456.5 1438.5,452.4 1443.0,452.8C1447.5,453.2 1452.3,458.8 1456.4,460.7C1460.5,462.6 1463.9,464.0 1467.6,464.0C1471.3,464.0 1475.8,462.8 1478.8,460.7C1481.8,458.6 1482.9,455.0 1485.5,451.7C1488.1,448.4 1491.1,442.5 1494.4,440.6C1497.8,438.8 1501.5,439.5 1505.6,440.6C1509.7,441.7 1514.5,445.6 1519.0,447.3C1523.5,449.0 1528.7,451.0 1532.4,450.6C1536.1,450.2 1538.0,447.1 1541.3,445.0C1544.6,442.9 1549.1,437.6 1552.5,438.0C1555.9,438.4 1558.9,444.3 1561.5,447.3C1564.1,450.3 1565.2,452.9 1568.2,456.2C1571.2,459.5 1575.6,465.3 1579.3,467.4C1583.0,469.4 1584.9,468.9 1590.5,468.5C1596.1,468.1 1604.5,465.8 1612.8,465.0C1621.0,464.2 1635.5,464.2 1640.0,464.0"/>
<path d="M1391.7,437.6C1392.8,435.4 1396.4,429.8 1398.4,424.2C1400.4,418.6 1401.8,411.6 1403.5,404.0C1405.2,396.4 1407.0,385.5 1408.5,378.8C1410.0,372.1 1411.3,366.9 1412.7,363.7C1414.1,360.5 1415.4,359.2 1416.9,359.5C1418.5,359.8 1420.3,361.3 1422.0,365.4C1423.7,369.5 1425.5,377.5 1427.0,383.9C1428.5,390.3 1430.0,397.3 1431.2,404.0C1432.5,410.7 1433.2,418.1 1434.5,424.2C1435.8,430.3 1437.3,437.0 1438.7,440.9C1440.1,444.8 1441.0,445.8 1442.9,447.7C1444.8,449.6 1448.8,451.3 1450.0,452.0"/>
<path d="M1343.0,462.0C1344.2,461.7 1347.8,461.0 1350.0,460.0C1352.2,459.0 1353.4,459.1 1355.9,456.2C1358.4,453.3 1361.7,447.9 1364.9,442.6C1368.1,437.3 1371.7,428.5 1374.9,424.2C1378.1,419.9 1381.7,416.3 1384.2,416.6C1386.7,416.9 1387.9,421.8 1390.0,425.8C1392.1,429.9 1394.8,436.5 1396.8,440.9C1398.8,445.3 1400.1,449.1 1402.0,452.0C1403.9,454.9 1407.0,457.0 1408.0,458.0"/>
<path d="M1396.8,438.0C1398.2,434.0 1402.5,419.5 1405.2,414.1C1407.9,408.7 1410.2,406.0 1412.7,405.7C1415.2,405.4 1417.9,409.2 1420.3,412.4C1422.7,415.6 1424.9,420.7 1427.0,425.0C1429.1,429.3 1430.8,433.8 1433.0,438.0C1435.2,442.2 1438.8,448.0 1440.0,450.0"/>
<path d="M1398.0,463.0C1399.0,462.5 1402.0,461.3 1404.0,460.0C1406.0,458.7 1407.6,458.2 1410.0,455.0C1412.4,451.8 1416.0,446.9 1418.6,440.9C1421.1,434.9 1422.8,424.7 1425.3,419.1C1427.8,413.5 1430.9,408.2 1433.7,407.4C1436.5,406.6 1439.4,410.2 1442.1,414.1C1444.8,418.0 1447.7,428.6 1450.0,430.9C1452.3,433.2 1453.8,429.4 1456.0,428.0C1458.2,426.6 1460.4,421.1 1463.1,422.5C1465.8,423.9 1469.4,431.9 1472.1,436.1C1474.8,440.3 1476.4,445.8 1479.0,447.7C1481.6,449.6 1484.8,450.4 1487.7,447.3C1490.6,444.2 1493.8,435.4 1496.6,429.4C1499.4,423.4 1502.1,415.6 1504.5,411.5C1506.9,407.4 1509.0,404.4 1511.2,404.8C1513.4,405.2 1515.5,409.6 1517.9,413.7C1520.3,417.8 1522.9,424.2 1525.7,429.4C1528.5,434.6 1531.6,442.8 1534.6,445.0C1537.6,447.2 1541.0,445.4 1543.6,442.8C1546.2,440.2 1548.1,434.6 1550.3,429.4C1552.5,424.2 1554.8,416.4 1557.0,411.5C1559.2,406.6 1561.8,402.2 1563.7,399.9C1565.6,397.6 1566.2,396.9 1568.2,397.7C1570.2,398.5 1573.8,401.0 1576.0,404.8C1578.2,408.6 1579.7,414.8 1581.6,420.4C1583.5,426.0 1585.3,433.8 1587.2,438.3C1589.1,442.8 1588.4,446.2 1592.7,447.3C1597.0,448.4 1605.7,443.9 1612.8,445.0C1619.9,446.1 1629.2,451.8 1635.2,454.0C1641.2,456.2 1644.1,458.4 1648.6,458.4C1653.1,458.4 1658.3,455.3 1662.0,454.0C1665.7,452.7 1668.3,450.4 1671.0,450.6C1673.7,450.8 1675.8,455.6 1678.0,455.0C1680.2,454.4 1682.2,452.0 1684.0,447.0C1685.8,442.0 1687.5,432.0 1689.0,425.0C1690.5,418.0 1692.6,408.2 1693.3,404.8"/>
<path d="M1600.0,444.0C1603.3,444.8 1613.3,447.2 1620.0,449.0C1626.7,450.8 1635.0,453.6 1640.0,455.0C1645.0,456.4 1646.3,457.8 1650.0,457.5C1653.7,457.2 1658.5,454.0 1662.0,453.0C1665.5,452.0 1668.3,451.0 1671.0,451.5C1673.7,452.0 1676.8,455.2 1678.0,456.0"/>
<path d="M1596.0,448.0C1599.2,448.7 1608.5,450.3 1615.0,452.0C1621.5,453.7 1629.5,456.7 1635.0,458.0C1640.5,459.3 1645.8,459.7 1648.0,460.0"/>
<path d="M1501.1,442.8C1503.0,438.7 1509.5,423.6 1512.3,418.2C1515.1,412.8 1515.9,412.1 1517.9,410.4C1520.0,408.7 1522.5,408.4 1524.6,408.2C1526.6,408.0 1528.2,406.9 1530.2,409.3C1532.2,411.7 1534.7,417.9 1536.9,422.7C1539.1,427.5 1541.0,433.8 1543.6,438.3C1546.2,442.8 1549.4,447.1 1552.5,449.5C1555.6,451.9 1558.2,452.8 1562.0,453.0C1565.8,453.2 1571.2,451.5 1575.0,451.0C1578.8,450.5 1582.2,450.6 1585.0,450.0C1587.8,449.4 1590.8,447.9 1592.0,447.5"/>
<path d="M1436.0,447.0C1437.2,445.8 1440.3,442.5 1443.0,440.0C1445.7,437.5 1448.3,433.2 1452.0,432.0C1455.7,430.8 1461.1,432.2 1465.4,432.7C1469.7,433.2 1473.9,434.2 1478.0,435.0C1482.1,435.8 1486.3,435.9 1490.0,437.2C1493.7,438.5 1497.0,441.4 1500.0,443.0C1503.0,444.6 1506.7,446.3 1508.0,447.0"/>
<path d="M966.0,420.0C967.0,416.3 970.0,405.8 972.0,398.0C974.0,390.2 976.2,380.2 978.0,373.0C979.8,365.8 981.5,359.7 983.0,355.0C984.5,350.3 986.3,346.7 987.0,345.0"/>
</g>
<g fill="none" stroke="#00ff00" stroke-width="5.8" stroke-linejoin="round" stroke-linecap="butt">
<path d="M207.6,413.0C209.0,416.4 213.0,424.9 215.9,433.5C218.8,442.1 221.8,455.5 224.8,464.8C227.8,474.1 230.8,481.3 233.7,489.4C236.6,497.5 240.3,509.2 242.0,513.5C243.7,517.8 242.5,514.8 244.0,515.1C245.5,515.4 249.5,515.5 251.0,515.1C252.5,514.7 252.0,516.8 252.8,512.5C253.7,508.2 254.7,497.3 256.1,489.4C257.5,481.4 259.3,474.1 261.0,464.8C262.7,455.5 264.9,442.3 266.1,433.5C267.3,424.7 267.4,418.6 268.0,412.0C268.6,405.4 269.0,401.2 269.6,394.0C270.2,386.8 270.8,376.4 271.7,368.5C272.6,360.6 274.0,355.1 275.1,346.9C276.2,338.7 277.3,327.7 278.4,319.4C279.5,311.1 280.7,304.1 281.8,297.0C282.9,289.9 284.4,281.9 285.1,276.9C285.9,271.9 286.0,269.4 286.3,267.0C286.6,264.6 286.2,263.6 286.9,262.6C287.6,261.6 289.2,261.7 290.5,261.2C291.8,260.7 293.5,259.4 294.4,259.8C295.3,260.2 295.0,261.0 295.7,263.5C296.4,266.0 297.4,269.4 298.8,275.0C300.2,280.6 302.3,288.9 304.1,297.0C305.9,305.1 308.0,315.6 309.7,323.9C311.4,332.2 312.7,339.5 314.2,346.9C315.7,354.3 317.0,361.2 318.7,368.5C320.4,375.8 322.8,385.5 324.2,390.9C325.6,396.3 325.9,396.5 327.0,401.0C328.1,405.5 329.4,414.1 331.0,417.9C332.6,421.6 334.6,423.1 336.5,423.5C338.4,423.9 339.9,422.9 342.1,420.1C344.4,417.3 347.6,410.1 350.0,406.7C352.4,403.3 354.6,401.2 356.6,399.5C358.6,397.8 360.1,396.5 361.8,396.5C363.5,396.5 364.9,397.8 367.0,399.5C369.1,401.2 372.1,403.4 374.5,406.7C376.9,409.9 378.6,415.6 381.2,419.0C383.8,422.4 386.8,424.8 390.2,426.8C393.6,428.8 398.3,430.6 401.3,430.8C404.3,431.0 405.4,430.2 408.0,427.9C410.6,425.6 414.0,420.7 417.0,416.8C420.0,412.9 423.2,407.9 425.9,404.5C428.6,401.1 430.7,396.5 433.1,396.5C435.5,396.5 438.0,400.6 440.4,404.5C442.8,408.4 445.1,415.3 447.2,420.1C449.2,424.9 450.8,429.6 452.7,433.5C454.6,437.4 455.9,441.4 458.3,443.6C460.7,445.8 464.1,447.1 467.3,446.9C470.5,446.7 474.1,445.5 477.3,442.5C480.5,439.5 483.3,434.0 486.3,429.1C489.3,424.2 492.0,417.6 495.2,413.4C498.4,409.2 502.0,403.4 505.3,403.8C508.6,404.2 512.1,411.0 515.3,415.6C518.4,420.2 520.9,427.0 524.2,431.3C527.6,435.6 532.0,441.3 535.4,441.3C538.8,441.3 541.4,433.5 544.4,431.3C547.4,429.1 550.3,429.1 553.3,427.9C556.3,426.6 558.9,426.9 562.3,423.8C565.7,420.7 570.5,415.8 573.5,409.3C576.5,402.8 578.0,392.5 580.2,384.7C582.4,376.9 584.8,368.6 586.5,362.3C588.2,356.0 589.0,352.6 590.3,346.9C591.6,341.2 592.4,334.8 594.2,328.3C596.0,321.9 599.2,313.8 601.2,308.2C603.2,302.6 604.8,297.9 606.3,295.0C607.8,292.1 609.6,291.5 610.2,290.8"/>
<path d="M616.0,313.8C616.5,314.1 617.9,314.6 619.0,315.5C620.1,316.4 621.3,316.1 622.7,319.4C624.1,322.6 625.9,329.4 627.2,335.0C628.5,340.6 629.3,346.6 630.5,352.9C631.7,359.2 633.1,367.2 634.5,373.0C635.9,378.8 637.0,382.1 638.8,387.5C640.6,392.9 643.9,400.9 645.5,405.5C647.1,410.1 647.5,411.0 648.4,415.0C649.2,419.0 649.3,424.0 650.6,429.4C651.9,434.8 654.2,442.3 656.2,447.3C658.2,452.3 660.3,455.9 662.9,459.6C665.5,463.3 669.4,469.2 671.8,469.6C674.2,470.0 675.5,465.9 677.4,461.8C679.3,457.7 681.1,450.2 683.0,445.0C684.9,439.8 686.4,434.2 688.6,430.5C690.8,426.8 694.0,425.9 696.4,422.7C698.8,419.5 700.9,415.8 703.1,411.5C705.3,407.2 707.6,401.3 709.8,397.0C712.0,392.7 714.5,390.8 716.5,385.8C718.5,380.8 720.2,372.4 722.1,366.8C724.0,361.2 726.1,355.4 727.7,352.3C729.3,349.2 730.0,347.4 731.5,348.5C733.0,349.6 734.8,355.6 736.6,359.0C738.4,362.4 740.3,364.4 742.2,369.0C744.1,373.6 745.8,380.6 747.8,386.9C749.8,393.2 752.5,401.4 754.5,407.0C756.5,412.6 758.2,416.8 760.1,420.4C762.0,423.9 763.8,425.9 765.7,428.3C767.6,430.7 769.1,433.9 771.3,435.0C773.5,436.1 776.9,437.4 779.1,435.0C781.3,432.6 782.5,426.4 784.7,420.4C786.9,414.4 789.9,405.5 792.5,399.2C795.1,392.9 797.9,386.8 800.3,382.5C802.7,378.2 805.0,375.2 807.0,373.5C809.0,371.8 810.6,372.2 812.6,372.4C814.6,372.6 817.2,374.0 819.3,374.6C821.3,375.2 823.0,374.7 824.9,375.8C826.8,376.9 828.6,379.3 830.5,381.3C832.4,383.3 834.2,384.4 836.1,388.0C838.0,391.6 839.7,396.8 841.7,402.6C843.8,408.4 846.2,416.8 848.4,422.7C850.6,428.6 852.9,434.2 855.1,438.3C857.3,442.4 859.6,445.2 861.8,447.3C864.0,449.4 866.5,450.6 868.5,450.6C870.5,450.6 872.2,449.0 874.1,447.3C876.0,445.6 877.3,443.0 879.7,440.6C882.1,438.2 885.6,435.5 888.6,432.7C891.6,429.9 894.5,426.0 897.5,423.8C900.5,421.6 903.1,420.5 906.5,419.3C909.9,418.1 915.1,417.9 917.7,416.5C920.3,415.1 920.5,413.2 922.0,411.0C923.5,408.8 924.8,405.7 926.7,403.5C928.6,401.3 931.2,399.7 933.4,398.0C935.6,396.3 938.0,393.2 940.1,393.2C942.2,393.2 943.8,395.1 945.7,398.1C947.6,401.2 949.4,408.0 951.3,411.5C953.2,415.0 954.8,417.1 956.9,419.3C959.0,421.5 961.5,423.3 963.6,424.5C965.7,425.7 967.4,426.8 969.2,426.7C971.1,426.6 972.9,426.0 974.7,423.8C976.6,421.6 978.2,418.0 980.3,413.7C982.3,409.4 985.0,403.3 987.0,398.1C989.0,392.9 990.9,388.1 992.6,382.5C994.3,376.9 995.9,370.0 997.1,364.6C998.3,359.2 999.2,354.3 1000.0,350.0C1000.8,345.7 1000.8,344.1 1001.8,339.0C1002.8,333.9 1004.4,325.1 1006.0,319.4C1007.6,313.7 1009.6,308.1 1011.6,304.9C1013.6,301.7 1015.8,300.0 1017.7,300.4C1019.6,300.8 1021.0,303.2 1022.8,307.1C1024.6,311.0 1026.5,317.8 1028.4,323.9C1030.3,330.0 1032.3,337.9 1034.0,344.0C1035.7,350.1 1036.9,356.2 1038.4,360.7C1039.9,365.2 1041.5,368.6 1042.9,370.8C1044.3,373.0 1045.2,374.1 1046.7,373.7C1048.2,373.3 1049.8,371.2 1051.8,368.5C1053.8,365.8 1056.2,361.1 1058.5,357.4C1060.8,353.7 1063.0,348.8 1065.3,346.2C1067.5,343.6 1069.8,341.7 1072.0,341.7C1074.2,341.7 1076.3,343.8 1078.7,346.2C1081.1,348.6 1083.9,352.9 1086.5,356.3C1089.1,359.7 1091.9,363.7 1094.3,366.3C1096.7,368.9 1098.6,369.7 1101.0,371.9C1103.4,374.1 1106.6,378.1 1108.8,379.3C1111.0,380.5 1112.4,379.7 1114.4,379.3C1116.5,378.9 1118.7,376.6 1121.1,377.0C1123.5,377.4 1126.5,381.2 1128.9,381.5C1131.3,381.8 1133.4,378.5 1135.6,378.6C1137.8,378.8 1140.0,381.2 1142.3,382.4C1144.5,383.6 1147.0,385.4 1149.1,386.0C1151.1,386.6 1152.4,385.6 1154.6,386.0C1156.8,386.4 1159.5,387.0 1162.5,388.2C1165.5,389.4 1169.2,391.2 1172.5,393.1C1175.8,395.0 1179.4,397.9 1182.6,399.8C1185.8,401.7 1188.2,403.2 1191.5,404.7C1194.8,406.2 1199.2,407.4 1202.5,409.0C1205.8,410.6 1208.3,411.5 1211.5,414.0C1214.7,416.5 1218.7,421.4 1221.7,423.8C1224.7,426.2 1227.1,427.4 1229.5,428.3C1231.9,429.2 1234.0,429.5 1236.2,429.4C1238.4,429.3 1240.9,428.0 1242.9,427.6C1245.0,427.2 1246.5,427.7 1248.5,427.2C1250.5,426.7 1253.0,426.0 1255.2,424.5C1257.4,423.0 1259.7,421.1 1261.9,418.2C1264.1,415.3 1266.4,411.3 1268.6,407.0C1270.8,402.7 1273.2,397.0 1275.3,392.5C1277.3,388.0 1278.9,383.4 1280.9,380.2C1282.9,377.0 1285.2,373.9 1287.2,373.5C1289.2,373.1 1291.3,375.4 1293.2,378.0C1295.1,380.6 1296.9,384.7 1298.8,389.2C1300.7,393.7 1302.5,399.2 1304.4,404.8C1306.3,410.4 1308.1,417.2 1310.0,422.5C1311.9,427.8 1313.6,432.6 1316.0,436.5C1318.4,440.4 1321.7,444.0 1324.6,446.1C1327.5,448.2 1330.7,448.5 1333.5,449.0C1336.3,449.5 1338.7,449.7 1341.3,449.0C1343.9,448.3 1346.6,446.6 1349.2,445.0C1351.8,443.4 1354.6,441.6 1357.0,439.4C1359.4,437.2 1361.5,433.6 1363.7,431.6C1365.9,429.6 1368.0,427.9 1370.4,427.6C1372.8,427.3 1375.6,428.8 1378.2,429.8C1380.8,430.9 1383.2,432.4 1386.0,433.9C1388.8,435.4 1392.4,439.0 1395.0,439.0C1397.6,439.0 1399.5,436.2 1401.7,433.9C1403.9,431.5 1406.2,427.3 1408.4,424.9C1410.6,422.5 1412.9,420.5 1415.1,419.3C1417.2,418.1 1419.2,417.4 1421.3,417.8C1423.3,418.2 1425.3,419.5 1427.4,421.6C1429.5,423.7 1431.9,427.9 1434.1,430.5C1436.3,433.1 1438.2,435.3 1440.8,437.2C1443.4,439.1 1446.7,441.1 1449.7,441.7C1452.7,442.3 1456.1,441.1 1458.7,441.0C1461.3,440.9 1463.0,440.3 1465.4,441.0C1467.8,441.7 1470.6,443.9 1473.2,445.0C1475.8,446.1 1478.4,447.7 1481.0,447.7C1483.6,447.7 1486.2,446.8 1488.8,445.0C1491.4,443.2 1494.0,439.4 1496.6,437.2C1499.2,435.0 1501.7,433.1 1504.5,431.6C1507.3,430.1 1510.6,428.3 1513.4,428.3C1516.2,428.3 1518.4,430.5 1521.2,431.6C1524.0,432.7 1527.4,433.7 1530.2,435.0C1533.0,436.3 1535.4,438.3 1538.0,439.4C1540.6,440.5 1543.0,441.6 1545.8,441.7C1548.6,441.8 1551.7,440.7 1554.7,440.1C1557.7,439.5 1560.7,438.3 1563.7,437.9C1566.7,437.5 1570.0,437.1 1572.6,437.9C1575.2,438.7 1577.1,440.9 1579.3,442.8C1581.5,444.7 1583.6,447.6 1586.0,449.5C1588.4,451.4 1591.2,453.3 1593.8,454.4C1596.4,455.5 1599.3,456.1 1601.7,456.2C1604.1,456.3 1606.2,455.6 1608.4,455.1C1610.6,454.7 1612.5,453.3 1615.1,453.5C1617.7,453.7 1621.0,455.2 1624.0,456.2C1627.0,457.2 1630.0,458.6 1633.0,459.6C1636.0,460.7 1638.6,461.9 1641.9,462.5C1645.2,463.1 1649.0,462.8 1653.1,462.9C1657.2,463.0 1662.4,462.9 1666.5,462.9C1670.6,462.9 1674.8,464.0 1677.6,462.9C1680.4,461.8 1681.6,459.9 1683.3,456.5C1685.0,453.1 1686.5,447.7 1688.0,442.8C1689.5,437.9 1691.0,432.4 1692.2,427.2C1693.4,422.0 1694.8,414.1 1695.3,411.5"/>
</g>
<line x1="491" x2="491" y1="124.4" y2="410.7" stroke="#fff" stroke-width="2"/>
<line x1="491" x2="491" y1="476" y2="651.8" stroke="#fff" stroke-width="2"/>
<line x1="491" x2="491" y1="419" y2="468" stroke="#ff8c00" stroke-width="2" stroke-dasharray="4 2.6"/>
<rect x="430" y="87" width="121.6" height="28.4" fill="rgba(0,0,0,0.58)"/>
<rect x="430" y="660" width="121.6" height="30" fill="rgba(0,0,0,0.58)"/>
<g fill="none" stroke="#0a84ff" stroke-linecap="round" stroke-linejoin="round">
<path d="M164.9,28.3 L145.6,46 L164.9,63.7" stroke-width="4.4"/>
<path d="M1483.2,46 L1515.3,30.2 L1515.3,61.8 Z" stroke-width="3.2"/>
</g>
<path d="M1626.2,46 L1594.1,30.2 L1594.1,61.8 Z" fill="none" stroke="#3a3a3c" stroke-width="3.2" stroke-linejoin="round"/>
<g fill="none" stroke="#0a84ff" stroke-width="2.2" stroke-linecap="butt">
<path d="M1392.69,59.18 A17.6,17.6 0 1 1 1415.31,59.18"/>
<path d="M1396.42,54.74 A11.8,11.8 0 1 1 1411.58,54.74"/>
<path d="M1400.01,50.45 A6.2,6.2 0 1 1 1407.99,50.45"/>
</g>
<path d="M1404,50 L1416.2,63.9 L1391.8,63.9 Z" fill="#0a84ff" stroke="#0a84ff" stroke-width="1" stroke-linejoin="round"/>
<g fill="none" stroke="#0a84ff" stroke-width="2.5" stroke-linecap="round" stroke-linejoin="round">
<path d="M131.8,726.1 H171.4"/>
<path d="M143.2,726.1 V721.2 Q143.2,717.5 147,717.5 H156.2 Q160,717.5 160,721.2 V726.1"/>
<path d="M136,727.5 L139,758.5 Q139.4,762.8 143.6,762.8 H159.6 Q163.8,762.8 164.2,758.5 L167.2,727.5"/>
<path d="M144.6,732.6 L145.4,756.8 M151.6,732.6 V756.8 M158.6,732.6 L157.8,756.8" stroke-width="2"/>
<path d="M439.6,731.8 H434.2 Q428.6,731.8 428.6,737.4 V757.6 Q428.6,763.2 434.2,763.2 H457.6 Q463.2,763.2 463.2,757.6 V737.4 Q463.2,731.8 457.6,731.8 H452.2"/>
<path d="M445.9,720 V749.6 M437.4,741.6 L445.9,750 L454.4,741.6"/>
<path d="M721.6,723.2 V760.3 H765" stroke-width="2.8"/>
<path d="M721.6,745.6 L735.5,737.9 L745.6,746.2 L761.9,736.2" stroke-width="2.2"/>
</g>
<circle cx="735.5" cy="737.9" r="3.4" fill="#0a84ff"/>
<circle cx="745.6" cy="746.2" r="3.4" fill="#0a84ff"/>
<circle cx="761.9" cy="736.2" r="3.4" fill="#0a84ff"/>
<g fill="none" stroke="#0a84ff" stroke-width="2.3" stroke-linejoin="round">
<path d="M1031.36,725.40 Q1032.54,724.91 1032.73,723.32 L1032.91,721.78 Q1033.09,720.19 1034.69,720.19 L1036.31,720.19 Q1037.91,720.19 1038.09,721.78 L1038.27,723.32 Q1038.46,724.91 1039.64,725.40 L1039.64,725.40 Q1040.83,725.89 1042.08,724.90 L1043.30,723.93 Q1044.55,722.94 1045.68,724.07 L1046.83,725.22 Q1047.96,726.35 1046.97,727.60 L1046.00,728.82 Q1045.01,730.07 1045.50,731.26 L1045.50,731.26 Q1045.99,732.44 1047.58,732.63 L1049.12,732.81 Q1050.71,732.99 1050.71,734.59 L1050.71,736.21 Q1050.71,737.81 1049.12,737.99 L1047.58,738.17 Q1045.99,738.36 1045.50,739.54 L1045.50,739.54 Q1045.01,740.73 1046.00,741.98 L1046.97,743.20 Q1047.96,744.45 1046.83,745.58 L1045.68,746.73 Q1044.55,747.86 1043.30,746.87 L1042.08,745.90 Q1040.83,744.91 1039.64,745.40 L1039.64,745.40 Q1038.46,745.89 1038.27,747.48 L1038.09,749.02 Q1037.91,750.61 1036.31,750.61 L1034.69,750.61 Q1033.09,750.61 1032.91,749.02 L1032.73,747.48 Q1032.54,745.89 1031.36,745.40 L1031.36,745.40 Q1030.17,744.91 1028.92,745.90 L1027.70,746.87 Q1026.45,747.86 1025.32,746.73 L1024.17,745.58 Q1023.04,744.45 1024.03,743.20 L1025.00,741.98 Q1025.99,740.73 1025.50,739.54 L1025.50,739.54 Q1025.01,738.36 1023.42,738.17 L1021.88,737.99 Q1020.29,737.81 1020.29,736.21 L1020.29,734.59 Q1020.29,732.99 1021.88,732.81 L1023.42,732.63 Q1025.01,732.44 1025.50,731.26 L1025.50,731.26 Q1025.99,730.07 1025.00,728.82 L1024.03,727.60 Q1023.04,726.35 1024.17,725.22 L1025.32,724.07 Q1026.45,722.94 1027.70,723.93 L1028.92,724.90 Q1030.17,725.89 1031.36,725.40 Z"/>
<circle cx="1035.5" cy="735.4" r="5.3"/>
<path d="M1059.54,742.25 Q1060.53,741.84 1060.69,740.45 L1060.82,739.25 Q1060.98,737.86 1062.38,737.86 L1063.62,737.86 Q1065.02,737.86 1065.18,739.25 L1065.31,740.45 Q1065.47,741.84 1066.46,742.25 L1066.46,742.25 Q1067.45,742.66 1068.54,741.79 L1069.49,741.04 Q1070.58,740.16 1071.57,741.15 L1072.45,742.03 Q1073.44,743.02 1072.56,744.11 L1071.81,745.06 Q1070.94,746.15 1071.35,747.14 L1071.35,747.14 Q1071.76,748.13 1073.15,748.29 L1074.35,748.42 Q1075.74,748.58 1075.74,749.98 L1075.74,751.22 Q1075.74,752.62 1074.35,752.78 L1073.15,752.91 Q1071.76,753.07 1071.35,754.06 L1071.35,754.06 Q1070.94,755.05 1071.81,756.14 L1072.56,757.09 Q1073.44,758.18 1072.45,759.17 L1071.57,760.05 Q1070.58,761.04 1069.49,760.16 L1068.54,759.41 Q1067.45,758.54 1066.46,758.95 L1066.46,758.95 Q1065.47,759.36 1065.31,760.75 L1065.18,761.95 Q1065.02,763.34 1063.62,763.34 L1062.38,763.34 Q1060.98,763.34 1060.82,761.95 L1060.69,760.75 Q1060.53,759.36 1059.54,758.95 L1059.54,758.95 Q1058.55,758.54 1057.46,759.41 L1056.51,760.16 Q1055.42,761.04 1054.43,760.05 L1053.55,759.17 Q1052.56,758.18 1053.44,757.09 L1054.19,756.14 Q1055.06,755.05 1054.65,754.06 L1054.65,754.06 Q1054.24,753.07 1052.85,752.91 L1051.65,752.78 Q1050.26,752.62 1050.26,751.22 L1050.26,749.98 Q1050.26,748.58 1051.65,748.42 L1052.85,748.29 Q1054.24,748.13 1054.65,747.14 L1054.65,747.14 Q1055.06,746.15 1054.19,745.06 L1053.44,744.11 Q1052.56,743.02 1053.55,742.03 L1054.43,741.15 Q1055.42,740.16 1056.51,741.04 L1057.46,741.79 Q1058.55,742.66 1059.54,742.25 Z"/>
<circle cx="1063" cy="750.6" r="4"/>
</g>
<g fill="none" stroke="#0a84ff" stroke-width="3.1" stroke-linecap="round">
<path d="M1335,742.2 H1366"/>
<path d="M1625.8,742.2 H1657.2 M1641.5,726.6 V758"/>
</g>
<rect x="666" y="801.8" width="460" height="10.2" rx="5.1" fill="#505050"/>
</svg>
<div class="ly">
<div style="position:absolute;left:188.45px;top:28.03px;font-size:34px;line-height:39.066px;color:#0a84ff;font-weight:400;white-space:pre;letter-spacing:0.936px;word-spacing:0.0px;">HouseCurve</div>
<div style="position:absolute;left:840.92px;top:27.78px;font-size:34.5px;line-height:39.641px;color:#fff;font-weight:700;white-space:pre;letter-spacing:0.594px;word-spacing:0.0px;">Sweep</div>
<div style="position:absolute;left:454.08px;top:89.64px;font-size:23.6px;line-height:27.116px;color:#fff;font-weight:400;white-space:pre;letter-spacing:0.355px;word-spacing:0.0px;-webkit-text-stroke:0.35px #fff;">7.9 ms</div>
<div style="position:absolute;left:453.45px;top:661.64px;font-size:23.6px;line-height:27.116px;color:#fff;font-weight:400;white-space:pre;letter-spacing:0.365px;word-spacing:0.0px;-webkit-text-stroke:0.35px #fff;">110 Hz</div>
</div>
</body></html>
